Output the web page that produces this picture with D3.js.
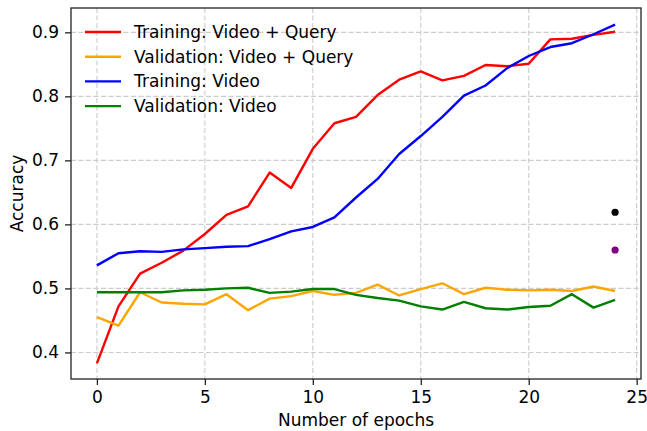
<!DOCTYPE html>
<html>
<head>
<meta charset="utf-8">
<script src="https://cdn.jsdelivr.net/npm/d3@7"></script>
<style>
    body { margin: 0; background: #fff; }
    svg text { font-family: "DejaVu Sans", sans-serif; fill: #000; }
    .grid line { stroke: #cccccc; stroke-width: 1.1; stroke-dasharray: 5,2.5; }
    .axis path, .axis line { stroke: #222; stroke-width: 1.3; }
    .axis text { font-size: 17px; }
</style>
</head>
<body>
<div id="chart"></div>
<script>
// Data
const epochs = [0, 1, 2, 3, 4, 5, 6, 7, 8, 9, 10, 11, 12, 13, 14, 15, 16, 17, 18, 19, 20, 21, 22, 23, 24];

const trainVideoQuery = [0.383, 0.472, 0.523, 0.540, 0.559, 0.585, 0.615, 0.628, 0.681, 0.657, 0.718, 0.758, 0.768,
    0.802, 0.826, 0.839, 0.825, 0.832, 0.849, 0.847, 0.851, 0.889, 0.890, 0.896, 0.901];
const valVideoQuery = [0.455, 0.442, 0.494, 0.478, 0.476, 0.475, 0.491, 0.466, 0.484, 0.488, 0.496, 0.490, 0.493,
    0.506, 0.489, 0.499, 0.508, 0.491, 0.501, 0.498, 0.497, 0.498, 0.496, 0.503, 0.496];
const trainVideo = [0.536, 0.555, 0.558, 0.557, 0.561, 0.563, 0.565, 0.566, 0.577, 0.589, 0.596, 0.611, 0.642,
    0.671, 0.710, 0.738, 0.768, 0.801, 0.817, 0.844, 0.863, 0.877, 0.883, 0.897, 0.912];
const valVideo = [0.494, 0.494, 0.494, 0.494, 0.497, 0.498, 0.500, 0.501, 0.493, 0.495, 0.499, 0.499, 0.490,
    0.485, 0.481, 0.472, 0.467, 0.479, 0.469, 0.467, 0.471, 0.473, 0.491, 0.470, 0.482];

const seriesNames = ["Training: Video + Query", "Validation: Video + Query", "Training: Video", "Validation: Video"];
const seriesColors = ["#ff0000", "#ffa500", "#0000ff", "#008000"];
const seriesValues = [trainVideoQuery, valVideoQuery, trainVideo, valVideo];

// Two single points at the last epoch
const extraPoints = [
    {epoch: 24, acc: 0.619, color: "#000000"},
    {epoch: 24, acc: 0.560, color: "#800080"}
];

const xTicks = [0, 5, 10, 15, 20, 25];
const yTicks = [0.4, 0.5, 0.6, 0.7, 0.8, 0.9];

let vis = {};
vis.margin = {top: 8, right: 6, bottom: 52, left: 71};
vis.width = 647 - vis.margin.left - vis.margin.right;
vis.height = 431 - vis.margin.top - vis.margin.bottom;

vis.svg = d3.select("#chart")
    .append("svg")
    .attr("width", 647)
    .attr("height", 431)
    .append("g")
    .attr("transform", "translate(" + vis.margin.left + "," + vis.margin.top + ")");

// Scales
vis.x = d3.scaleLinear()
    .domain([-1.2, 25.2])
    .range([0, vis.width]);

vis.y = d3.scaleLinear()
    .domain([0.3585, 0.938])
    .range([vis.height, 0]);

// Grid
vis.svg.append("g")
    .attr("class", "grid")
    .selectAll("line.gx")
    .data(xTicks)
    .enter()
    .append("line")
    .attr("x1", d => vis.x(d))
    .attr("x2", d => vis.x(d))
    .attr("y1", 0)
    .attr("y2", vis.height);

vis.svg.append("g")
    .attr("class", "grid")
    .selectAll("line.gy")
    .data(yTicks)
    .enter()
    .append("line")
    .attr("x1", 0)
    .attr("x2", vis.width)
    .attr("y1", d => vis.y(d))
    .attr("y2", d => vis.y(d));

// Lines
vis.line = d3.line()
    .x((d, i) => vis.x(epochs[i]))
    .y(d => vis.y(d));

vis.svg.selectAll(".series")
    .data(seriesValues)
    .enter()
    .append("path")
    .attr("class", "series")
    .attr("fill", "none")
    .attr("stroke", (d, i) => seriesColors[i])
    .attr("stroke-width", 2.4)
    .attr("stroke-linejoin", "round")
    .attr("d", vis.line);

vis.svg.selectAll(".extra")
    .data(extraPoints)
    .enter()
    .append("circle")
    .attr("class", "extra")
    .attr("cx", d => vis.x(d.epoch))
    .attr("cy", d => vis.y(d.acc))
    .attr("r", 3.6)
    .attr("fill", d => d.color);

// Axes
vis.xAxis = d3.axisBottom(vis.x)
    .tickValues(xTicks)
    .tickSize(6)
    .tickPadding(6)
    .tickFormat(d3.format("d"));

vis.yAxis = d3.axisLeft(vis.y)
    .tickValues(yTicks)
    .tickSize(6)
    .tickPadding(6)
    .tickFormat(d3.format(".1f"));

vis.svg.append("g")
    .attr("class", "x-axis axis")
    .attr("transform", "translate(0," + vis.height + ")")
    .call(vis.xAxis)
    .call(g => g.select(".domain").remove());

vis.svg.append("g")
    .attr("class", "y-axis axis")
    .call(vis.yAxis)
    .call(g => g.select(".domain").remove());

// Frame
vis.svg.append("rect")
    .attr("width", vis.width)
    .attr("height", vis.height)
    .attr("fill", "none")
    .attr("stroke", "#222")
    .attr("stroke-width", 1.3);

// Axis labels
vis.svg.append("text")
    .attr("x", vis.width / 2)
    .attr("y", vis.height + 47)
    .attr("text-anchor", "middle")
    .style("font-size", "17px")
    .text("Number of epochs");

vis.svg.append("text")
    .attr("transform", "translate(" + (-48) + "," + (vis.height / 2) + ") rotate(-90)")
    .attr("text-anchor", "middle")
    .style("font-size", "17px")
    .text("Accuracy");

// Legend
vis.legend = vis.svg.append("g")
    .attr("transform", "translate(14,24)");

vis.legendRows = vis.legend.selectAll(".legendRow")
    .data(seriesNames)
    .enter()
    .append("g")
    .attr("class", "legendRow")
    .attr("transform", (d, i) => "translate(0," + (i * 24.7) + ")");

vis.legendRows.append("line")
    .attr("x1", 0)
    .attr("x2", 36)
    .attr("stroke", (d, i) => seriesColors[i])
    .attr("stroke-width", 2.4);

vis.legendRows.append("text")
    .attr("x", 49)
    .attr("dy", "0.35em")
    .style("font-size", "17px")
    .text(d => d);
</script>
</body>
</html>
